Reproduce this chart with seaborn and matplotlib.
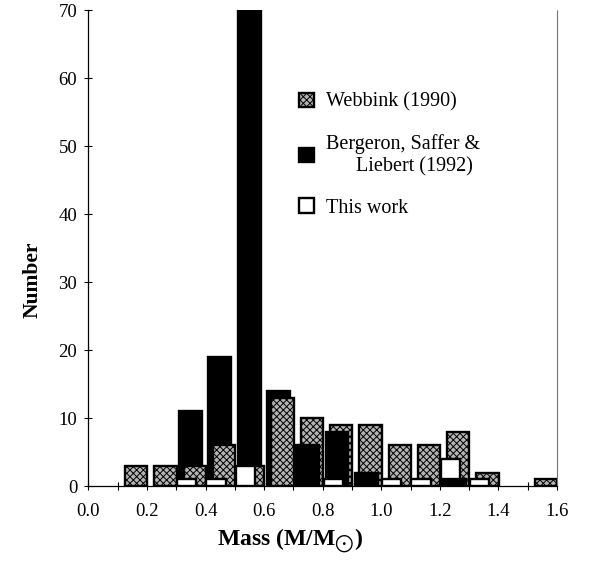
import numpy as np
import matplotlib
matplotlib.use("Agg")
import matplotlib.pyplot as plt
import seaborn as sns
from matplotlib.patches import Patch

# ---- data (bin lower edges in M/Msun, counts) ----
webbink_mass = [0.1, 0.2, 0.3, 0.4, 0.5, 0.6, 0.7, 0.8, 0.9, 1.0, 1.1, 1.2, 1.3, 1.5]
webbink_count = [3, 3, 3, 6, 3, 13, 10, 9, 9, 6, 6, 8, 2, 1]
bsl_mass = [0.3, 0.4, 0.5, 0.6, 0.7, 0.8, 0.9, 1.2]
bsl_count = [11, 19, 75, 14, 6, 8, 2, 1]
this_mass = [0.3, 0.4, 0.5, 0.8, 1.0, 1.1, 1.2, 1.3]
this_count = [1, 1, 3, 1, 1, 1, 4, 1]

x_ticks = [0.0, 0.2, 0.4, 0.6, 0.8, 1.0, 1.2, 1.4, 1.6]
y_ticks = [0, 10, 20, 30, 40, 50, 60, 70]

sns.set_theme(style="ticks")
plt.rcParams["font.family"] = ["Liberation Serif", "DejaVu Serif"]
plt.rcParams["mathtext.fontset"] = "stix"
plt.rcParams["hatch.linewidth"] = 0.7
for k in ["text.color", "axes.labelcolor", "xtick.color", "ytick.color"]:
    plt.rcParams[k] = "black"

fig = plt.figure(figsize=(5.97, 5.62), dpi=100)
ax = fig.add_axes([0.148, 0.135, 0.785, 0.847])

lw = 1.7
hatch_face = "#b4b4b4"
common = dict(native_scale=True, orient="x", errorbar=None, saturation=1,
              edgecolor="black", linewidth=lw, ax=ax)

sns.barplot(x=np.array(bsl_mass) + 0.049, y=bsl_count, width=0.78,
            color="black", **common)
sns.barplot(x=np.array(webbink_mass) + 0.063, y=webbink_count, width=0.76,
            color=hatch_face, hatch="xxxxx", **common)
sns.barplot(x=np.array(this_mass) + 0.036, y=this_count, width=0.66,
            color="white", **common)

# shorter bars drawn in front of taller ones
for p in ax.patches:
    p.set_zorder(3 + (100 - p.get_height()) / 100.0)

ax.set_xlim(0, 1.6)
ax.set_ylim(0, 70)
ax.set_xticks(x_ticks)
ax.set_xticklabels([f"{v:.1f}" for v in x_ticks])
ax.set_xticks(np.arange(0.1, 1.6, 0.2), minor=True)
ax.set_yticks(y_ticks)
ax.tick_params(axis="both", which="both", direction="inout", length=6,
               width=0.8, labelsize=13.5, colors="black")
ax.tick_params(axis="x", pad=9)
ax.tick_params(axis="y", pad=5)

ax.spines["top"].set_visible(False)
ax.spines["right"].set_color("#777777")
ax.spines["right"].set_linewidth(0.8)
ax.spines["right"].set_linestyle((0, (2, 1)))
for s in ["left", "bottom"]:
    ax.spines[s].set_linewidth(0.9)
    ax.spines[s].set_color("black")

ax.set_xlabel(r"Mass (M/M$_{\bigodot}$)", fontsize=17, fontweight="bold")
ax.xaxis.set_label_coords(0.43, -0.085)
ax.set_ylabel("Number", fontsize=15.5, fontweight="bold")
ax.yaxis.set_label_coords(-0.097, 0.433)

handles = [
    Patch(facecolor=hatch_face, edgecolor="black", hatch="xxxxx", linewidth=lw),
    Patch(facecolor="black", edgecolor="black", linewidth=lw),
    Patch(facecolor="white", edgecolor="black", linewidth=lw),
]
labels = ["Webbink (1990)", "Bergeron, Saffer &\n      Liebert (1992)", "This work"]
ax.legend(handles, labels, loc="upper left", bbox_to_anchor=(0.41, 0.865),
          frameon=False, fontsize=14.5, handlelength=0.75, handleheight=0.75,
          handletextpad=0.6, labelspacing=1.1)

fig.savefig("out.png", dpi=100)
